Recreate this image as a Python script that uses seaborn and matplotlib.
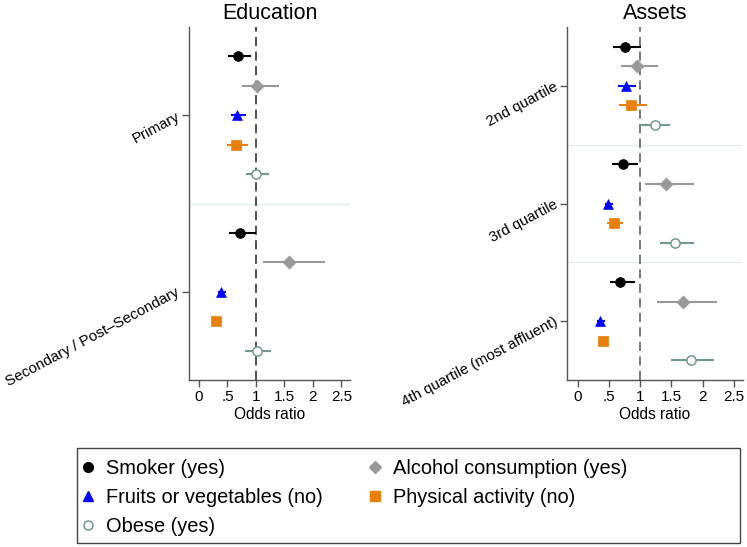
import matplotlib
matplotlib.use("Agg")
import matplotlib.pyplot as plt
import matplotlib.patches as mpatches
from matplotlib.lines import Line2D
import seaborn as sns
import pandas as pd
import numpy as np

sns.set_style("white")
plt.rcParams['font.family'] = ['Liberation Sans', 'DejaVu Sans']
plt.rcParams['text.color'] = 'black'
plt.rcParams['axes.labelcolor'] = 'black'
plt.rcParams['xtick.color'] = 'black'
plt.rcParams['ytick.color'] = 'black'

series = ["Smoker (yes)", "Alcohol consumption (yes)", "Fruits or vegetables (no)",
          "Physical activity (no)", "Obese (yes)"]
markers = ["o", "D", "^", "s", "o"]
colors = ["#000000", "#999999", "#0000ff", "#e8800a", "#73998d"]
filled = [True, True, True, True, False]

edu_cats = ["Primary", "Secondary / Post\u2013Secondary"]
edu_or = [[0.68, 1.02, 0.67, 0.65, 1.00],
          [0.72, 1.58, 0.39, 0.30, 1.01]]
edu_lo = [[0.51, 0.75, 0.56, 0.49, 0.82],
          [0.53, 1.12, 0.34, 0.25, 0.81]]
edu_hi = [[0.91, 1.40, 0.82, 0.86, 1.23],
          [1.00, 2.21, 0.47, 0.40, 1.26]]

asset_cats = ["2nd quartile", "3rd quartile", "4th quartile (most affluent)"]
asset_or = [[0.76, 0.95, 0.77, 0.85, 1.23],
            [0.73, 1.42, 0.49, 0.58, 1.56],
            [0.68, 1.69, 0.36, 0.40, 1.81]]
asset_lo = [[0.57, 0.69, 0.64, 0.66, 1.00],
            [0.55, 1.08, 0.44, 0.47, 1.31],
            [0.52, 1.27, 0.30, 0.34, 1.50]]
asset_hi = [[1.01, 1.29, 0.94, 1.11, 1.48],
            [0.96, 1.86, 0.56, 0.73, 1.87],
            [0.92, 2.23, 0.43, 0.50, 2.19]]

xticks = [0, 0.5, 1, 1.5, 2, 2.5]
xticklabels = ["0", ".5", "1", "1.5", "2", "2.5"]


def build(cats, ors, los, his):
    rows = []
    for i, c in enumerate(cats):
        for j, s in enumerate(series):
            rows.append(dict(cat=c, series=s, pos=i * 6 + j + 1,
                             orr=ors[i][j], lo=los[i][j], hi=his[i][j]))
    return pd.DataFrame(rows)


fig = plt.figure(figsize=(7.47, 5.47), dpi=100)
W, H = 747, 547


def panel(left_px, right_px, df, cats, title, vcolor):
    ax = fig.add_axes([left_px / W, 1 - 380 / H, (right_px - left_px) / W, 353 / H])
    n = len(cats)
    for i in range(1, n):
        ax.axhline(i * 6, color="#e4eef0", lw=1.0, zorder=0)
    ax.axvline(1, color=vcolor, lw=1.1, ls=(0, (6, 3.5)), zorder=1)
    for j, s in enumerate(series):
        d = df[df.series == s]
        ax.hlines(d.pos, d.lo, d.hi, color=colors[j], lw=1.5, zorder=2)
        if filled[j]:
            sns.scatterplot(data=d, x="orr", y="pos", marker=markers[j], color=colors[j],
                            s=50 if markers[j] != "D" else 44, edgecolor=colors[j],
                            linewidth=0.5, ax=ax, zorder=3, legend=False)
        else:
            sns.scatterplot(data=d, x="orr", y="pos", marker="o", facecolor="white",
                            edgecolor=colors[j], s=44, linewidth=1.1, ax=ax, zorder=3,
                            legend=False)
    ax.set_xlim(-0.175, 2.65)
    ax.set_ylim(n * 6, 0)
    ax.set_xticks(xticks)
    ax.set_xticklabels(xticklabels, fontsize=11)
    ax.set_yticks([i * 6 + 3 for i in range(n)])
    ax.set_yticklabels(cats, fontsize=10.8, rotation=28, ha="right", va="center",
                       rotation_mode="anchor")
    ax.set_xlabel("Odds ratio", fontsize=11.2, labelpad=2)
    ax.set_ylabel("")
    ax.set_title(title, fontsize=15.5, pad=6)
    for sp in ["top", "right"]:
        ax.spines[sp].set_visible(False)
    for sp in ["left", "bottom"]:
        ax.spines[sp].set_color("#555555")
        ax.spines[sp].set_linewidth(1.0)
    ax.tick_params(axis="both", which="both", direction="out", length=5, width=1.0,
                   color="#555555", labelcolor="black", bottom=True, left=True, pad=2.5)
    return ax


edu_df = build(edu_cats, edu_or, edu_lo, edu_hi)
asset_df = build(asset_cats, asset_or, asset_lo, asset_hi)
panel(189, 350, edu_df, edu_cats, "Education", "#222222")
panel(567, 743, asset_df, asset_cats, "Assets", "#555555")

# legend
handles = []
for j, s in enumerate(series):
    if filled[j]:
        h = Line2D([], [], ls="none", marker=markers[j], color=colors[j],
                   markersize=7 if markers[j] != "D" else 6, markeredgecolor=colors[j])
    else:
        h = Line2D([], [], ls="none", marker="o", markerfacecolor="white",
                   markeredgecolor=colors[j], markersize=6.5, markeredgewidth=1.1)
    handles.append(h)
order = [0, 2, 4, 1, 3]
leg = fig.legend([handles[k] for k in order], [series[k] for k in order],
                 loc="upper left", bbox_to_anchor=(78 / W, 1 - 459 / H), ncol=2,
                 frameon=False, fontsize=14.4, handlelength=1.0, handletextpad=0.4,
                 columnspacing=2.1, labelspacing=0.5, borderpad=0, borderaxespad=0)
for t in leg.get_texts():
    t.set_color("black")
fig.add_artist(mpatches.Rectangle((77 / W, 1 - 543 / H), 663 / W, 95 / H,
                                  transform=fig.transFigure, fill=False,
                                  edgecolor="#444444", lw=1.0))

fig.savefig("out.png", dpi=100)
